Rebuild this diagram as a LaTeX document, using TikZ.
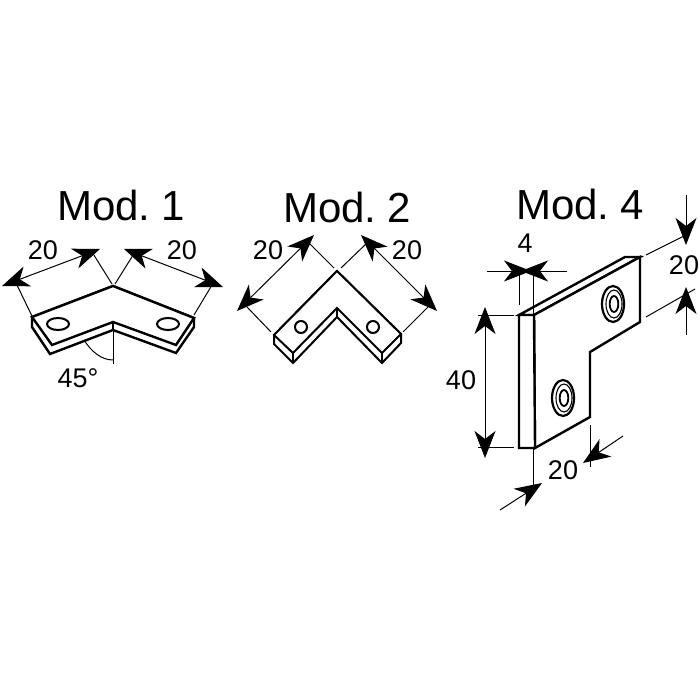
\documentclass[tikz,border=0pt]{standalone}
\usepackage{fontspec}
\setmainfont{Liberation Sans}
\newfontfamily\titlefont[WordSpace=0.6]{Liberation Sans}
\usetikzlibrary{arrows.meta}
\tikzset{
  thick outline/.style={line width=2.4pt,line join=miter,fill=white},
  thin outline/.style={line width=2pt,line join=miter,fill=white},
  ext/.style={line width=1pt},
  dim/.style={line width=1pt,{Stealth[length=27pt,width=21pt,inset=8pt]}-{Stealth[length=27pt,width=21pt,inset=8pt]}},
  dimend/.style={line width=1pt,-{Stealth[length=27pt,width=21pt,inset=8pt]}},
  titlelabel/.style={anchor=base,inner sep=0pt,font=\titlefont\fontsize{42}{42}\selectfont},
  dimlabel/.style={anchor=base,inner sep=0pt,font=\fontsize{27}{27}\selectfont},
}
\begin{document}
\begin{tikzpicture}[x=1pt,y=-1pt]
\useasboundingbox (0,0) rectangle (700,700);
% ---------- Mod. 1
\node[titlelabel] (t1) at (121,221) {Mod. 1};
\draw[thick outline] (32,317) -- (32,327) -- (50,354) -- (113,330) -- (176,353) -- (194,327) -- (194,318) -- (113,286) -- cycle;
\draw[thick outline] (32,317) -- (113,286) -- (194,318) -- (176,345) -- (113,322) -- (52,345) -- cycle;
\draw[line width=1.6pt] (113,322) -- (113,331);
\draw[line width=2pt] (58,324) ellipse [x radius=11,y radius=6];
\draw[line width=2pt] (168,324) ellipse [x radius=11,y radius=6];
\draw[ext] (32,316) -- (15,281);
\draw[ext] (112,284) -- (92,252);
\draw[ext] (115,284) -- (135,252);
\draw[ext] (194,315) -- (212,285);
\draw[dim] (2,286) -- (100,249);
\draw[dim] (124,249) -- (223,287);
\draw[ext] (113,322) -- (113,364);
\draw[ext] (84,340) .. controls (91,351) and (101,360) .. (113,360);
\node[dimlabel] (a1) at (43,259) {20};
\node[dimlabel] (a2) at (182,259) {20};
\node[dimlabel] (a3) at (78,387) {45°};
% ---------- Mod. 2
\node[titlelabel] (t2) at (347,223) {Mod. 2};
\draw[thin outline] (274,335) -- (274,344) -- (293,363) -- (337,317) -- (382,363) -- (401,343) -- (401,334) -- (337,271) -- cycle;
\draw[thin outline] (274,335) -- (337,271) -- (401,334) -- (382,353) -- (337,308) -- (293,353) -- cycle;
\draw[line width=2pt] (293,353) -- (293,363);
\draw[line width=2pt] (382,353) -- (382,363);
\draw[line width=1.6pt] (337,308) -- (337,317);
\draw[line width=2pt] (301,327) circle [radius=6];
\draw[line width=2pt] (373,327) circle [radius=6];
\draw[ext] (271,332) -- (247,307);
\draw[ext] (334,268) -- (308,242);
\draw[ext] (341,268) -- (367,243);
\draw[ext] (403,332) -- (430,305);
\draw[dim] (237,311) -- (314,235);
\draw[dim] (361,235) -- (437,311);
\node[dimlabel] (b1) at (268,259) {20};
\node[dimlabel] (b2) at (407,259) {20};
% ---------- Mod. 4
\node[titlelabel] (t4) at (580,220) {Mod. 4};
\draw[thick outline] (519,315) -- (625,257) -- (640,257) -- (534,315) -- cycle;
\draw[thick outline] (534,315) -- (640,257) -- (640,322) -- (590,352) -- (590,417) -- (535,448) -- cycle;
\draw[thick outline] (519,315) -- (534,315) -- (535,448) -- (519,448) -- cycle;
\foreach \hx/\hy in {613/304,563/398}{
  \draw[line width=2.2pt] (\hx,\hy) ellipse [x radius=11,y radius=18];
  \draw[line width=1.1pt] (\hx+1,\hy) ellipse [x radius=8,y radius=14];
  \draw[line width=1.8pt] (\hx+1,\hy) ellipse [x radius=4.3,y radius=8];
}
% dimension 4
\draw[ext] (519,270) -- (519,305);
\draw[ext] (533,270) -- (533,315);
\draw[dimend] (487,271) -- (531,271);
\draw[dimend] (567,271) -- (521,271);
\node[dimlabel] (c1) at (525,252) {4};
% dimension 40
\draw[ext] (478,315) -- (514,315);
\draw[ext] (478,447) -- (514,447);
\draw[dim] (485,307) -- (485,458);
\node[dimlabel] (c2) at (461,389) {40};
% dimension 20 bottom
\draw[ext] (533,448) -- (533,490);
\draw[ext] (590,425) -- (590,467);
\draw[dimend] (500,510) -- (542,483);
\draw[dimend] (623,436) -- (583,463);
\node[dimlabel] (c3) at (563,479) {20};
% dimension 20 right
\draw[ext] (646,255) -- (686,235);
\draw[ext] (646,317) -- (695,289);
\draw[dimend] (686,195) -- (686,245);
\draw[dimend] (686,335) -- (686,287);
\node[dimlabel] (c4) at (684,274) {20};
\end{tikzpicture}
\end{document}
